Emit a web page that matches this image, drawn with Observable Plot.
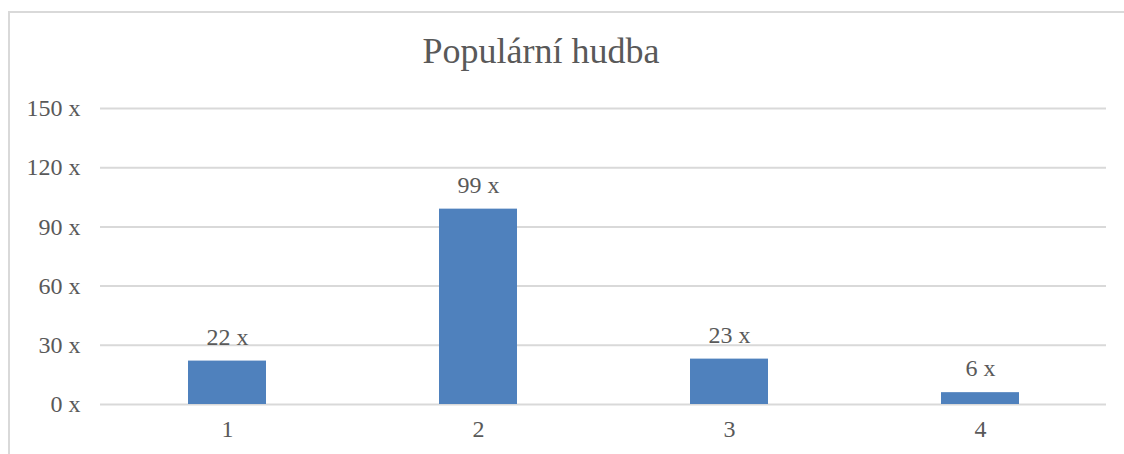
<!DOCTYPE html>
<html>
<head>
<meta charset="utf-8">
<script src="https://cdn.jsdelivr.net/npm/d3@7"></script>
<script src="https://cdn.jsdelivr.net/npm/@observablehq/plot@0.6"></script>
<style>
  html, body { margin: 0; padding: 0; background: #fff; overflow: hidden; }
  #wrap { position: relative; width: 1124px; height: 454px; font-family: "Liberation Serif", "Times New Roman", Times, "DejaVu Serif", serif; }
  #border { position: absolute; left: 8px; top: 11px; width: 1200px; height: 600px; border-left: 2px solid #d9d9d9; border-top: 2px solid #d9d9d9; box-sizing: border-box; }
  #title { position: absolute; left: 0; top: 31px; width: 1082px; text-align: center; font-size: 36px; color: #595959; line-height: 40px; }
  #chart { position: absolute; left: 0; top: 0; }
</style>
</head>
<body>
<div id="wrap">
  <div id="border"></div>
  <div id="chart"></div>
  <div id="title">Populární hudba</div>
</div>
<script>
const categories = ["1", "2", "3", "4"];
const values = [22, 99, 23, 6];
const yTicks = [0, 30, 60, 90, 120, 150];
const unit = " x";

const data = categories.map((c, i) => ({cat: c, v: values[i]}));
const serif = "'Liberation Serif', 'Times New Roman', Times, 'DejaVu Serif', serif";

const chart = Plot.plot({
  width: 1124,
  height: 454,
  marginLeft: 100,
  marginRight: 18,
  marginTop: 108,
  marginBottom: 50,
  style: {fontFamily: serif, fontSize: "24px", color: "#595959", background: "transparent"},
  x: {domain: categories, paddingInner: 0.69, paddingOuter: 0.345},
  y: {domain: [0, 150]},
  marks: [
    Plot.gridY(yTicks, {stroke: "#d9d9d9", strokeOpacity: 1, strokeWidth: 2}),
    Plot.barY(data, {x: "cat", y: "v", fill: "#4f81bd"}),
    Plot.text(data, {x: "cat", y: "v", text: d => d.v + unit, dy: -24, fill: "#595959", fontSize: 24, fontFamily: serif}),
    Plot.axisY({ticks: yTicks, tickFormat: d => d + unit, tickSize: 0, tickPadding: 20, label: null, fill: "#595959", fontSize: 24, fontFamily: serif}),
    Plot.axisX({tickSize: 0, tickPadding: 15, label: null, fill: "#595959", fontSize: 24, fontFamily: serif})
  ]
});
document.getElementById("chart").appendChild(chart);
</script>
</body>
</html>
